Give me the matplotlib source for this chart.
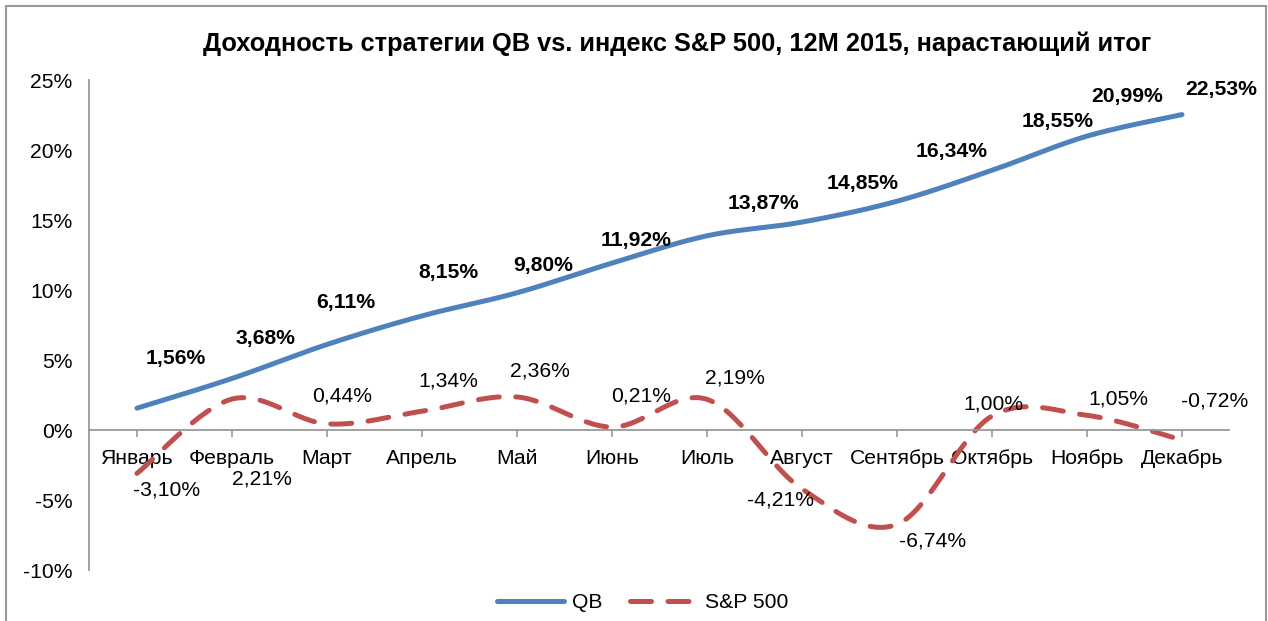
import numpy as np
import matplotlib
matplotlib.use("Agg")
import matplotlib.pyplot as plt
from matplotlib.lines import Line2D
from matplotlib.patches import Rectangle

plt.rcParams['font.family'] = ['Liberation Sans', 'DejaVu Sans']

months = ['Январь', 'Февраль', 'Март', 'Апрель', 'Май', 'Июнь',
          'Июль', 'Август', 'Сентябрь', 'Октябрь', 'Ноябрь', 'Декабрь']
qb = [1.56, 3.68, 6.11, 8.15, 9.80, 11.92, 13.87, 14.85, 16.34, 18.55, 20.99, 22.53]
sp500 = [-3.10, 2.21, 0.44, 1.34, 2.36, 0.21, 2.19, -4.21, -6.74, 1.00, 1.05, -0.72]

# label offsets in pixels (dx, dy)
qb_off = [(39, 50), (34, 40), (19, 42), (26, 43), (26, 27), (24, 23),
          (56, 32), (61, 39), (55, 50), (66, 49), (40, 40), (39, 25)]
sp_off = [(30, -17), (30, -80), (15, 28), (26, 30), (23, 26), (29, 31),
          (28, 21), (-21, -11), (36, -17), (1, 12), (31, 16), (33, 39)]

blue = '#4F81BD'
red = '#C0504D'
fs = 15.2


def smooth(y, n=30):
    # excel-like smoothed line (catmull-rom bezier)
    x = np.arange(len(y), dtype=float)
    y = np.asarray(y, dtype=float)
    px = np.concatenate([[x[0]], x, [x[-1]]])
    py = np.concatenate([[y[0]], y, [y[-1]]])
    xs, ys = [], []
    t = np.linspace(0, 1, n)
    for i in range(len(y) - 1):
        p0 = np.array([px[i], py[i]])
        p1 = np.array([px[i + 1], py[i + 1]])
        p2 = np.array([px[i + 2], py[i + 2]])
        p3 = np.array([px[i + 3], py[i + 3]])
        c1 = p1 + (p2 - p0) / 6
        c2 = p2 - (p3 - p1) / 6
        b = (np.outer((1 - t) ** 3, p1) + np.outer(3 * (1 - t) ** 2 * t, c1)
             + np.outer(3 * (1 - t) * t ** 2, c2) + np.outer(t ** 3, p2))
        xs.extend(b[:, 0])
        ys.extend(b[:, 1])
    return np.array(xs), np.array(ys)


fig = plt.figure(figsize=(12.68, 6.21), dpi=100)
ax = fig.add_axes([89 / 1268, 51 / 621, 1140 / 1268, 490 / 621])

x = np.arange(len(months))
sx, sy = smooth(qb)
ax.plot(sx, sy, color=blue, lw=3.6, solid_capstyle='round')
sx, sy = smooth(sp500)
ax.plot(sx, sy, color=red, lw=3.6, dashes=(4.2, 3.3), dash_capstyle='round')

ax.set_xlim(-0.505, 11.495)
ax.set_ylim(-10, 25)
ax.set_yticks(np.arange(-10, 26, 5))
ax.set_yticklabels([f'{v}%' for v in range(-10, 26, 5)])
ax.set_xticks(x)
ax.set_xticklabels(months)

for s in ['top', 'right']:
    ax.spines[s].set_visible(False)
ax.spines['bottom'].set_position(('data', 0))
ax.spines['left'].set_color('#999999')
ax.spines['bottom'].set_color('#999999')
ax.spines['left'].set_linewidth(1.3)
ax.spines['bottom'].set_linewidth(1.3)
ax.tick_params(axis='y', length=0, pad=12, labelsize=fs)
ax.tick_params(axis='x', length=5, width=1.2, color='#999999', pad=8.5, labelsize=fs)

def fmt(v):
    return f'{v:.2f}%'.replace('.', ',')

for i in range(len(months)):
    dx, dy = qb_off[i]
    ax.annotate(fmt(qb[i]), (i, qb[i]), xytext=(dx * 0.72, dy * 0.72),
                textcoords='offset points', ha='center', va='center',
                fontsize=fs, fontweight='bold')
    dx, dy = sp_off[i]
    ax.annotate(fmt(sp500[i]), (i, sp500[i]), xytext=(dx * 0.72, dy * 0.72),
                textcoords='offset points', ha='center', va='center',
                fontsize=fs)

fig.text(0.534, 1 - 44 / 621, 'Доходность стратегии QB vs. индекс S&P 500, 12M 2015, нарастающий итог',
         ha='center', va='center', fontsize=18.3, fontweight='bold')

handles = [Line2D([], [], color=blue, lw=3.6, solid_capstyle='round'),
           Line2D([], [], color=red, lw=3.6, dashes=(4.2, 3.3), dash_capstyle='round')]
fig.legend(handles, ['QB', 'S&P 500'], loc='center', bbox_to_anchor=(0.507, 18 / 621),
           ncol=2, frameon=False, fontsize=fs, handlelength=3.15, columnspacing=1.3,
           handletextpad=0.4)

fig.patches.append(Rectangle((6 / 1268, -0.02), 1260 / 1268, 1 - 6 / 621 + 0.02,
                             transform=fig.transFigure, fill=False,
                             edgecolor='#999999', lw=1.5))

fig.savefig('out.png', dpi=100)
